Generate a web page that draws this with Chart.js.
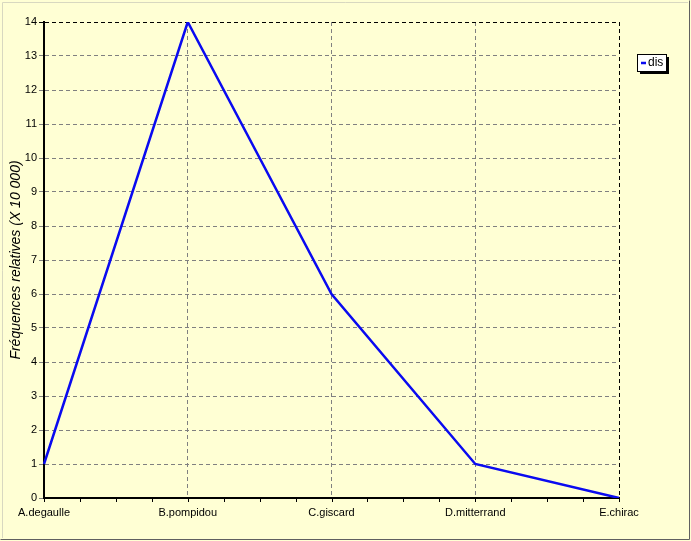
<!DOCTYPE html>
<html>
<head>
<meta charset="utf-8">
<script src="https://cdn.jsdelivr.net/npm/chart.js@4/dist/chart.umd.min.js"></script>
<style>
  html, body { margin: 0; padding: 0; background: #ffffd4; }
  #wrap { width: 691px; height: 541px; }
</style>
</head>
<body>
<div id="wrap"><canvas id="chart" width="691" height="541"></canvas></div>
<script>
// data
const presidents = ['A.degaulle', 'B.pompidou', 'C.giscard', 'D.mitterrand', 'E.chirac'];
const disValues = [1, 14, 6, 1, 0];
const seriesName = 'dis';
const yTitle = 'Fréquences relatives (X 10 000)';

const bgColor = '#ffffd4';
const lineColor = '#0a0af0';

// frame round the whole picture + the legend box with its shadow
const decor = {
  id: 'decor',
  beforeDraw(chart) {
    const ctx = chart.ctx;
    ctx.save();
    ctx.fillStyle = bgColor;
    ctx.fillRect(0, 0, chart.width, chart.height);
    ctx.strokeStyle = '#d8d8c0';
    ctx.lineWidth = 1;
    ctx.beginPath();
    ctx.moveTo(2.5, chart.height - 3);
    ctx.lineTo(2.5, 2.5);
    ctx.lineTo(chart.width - 3, 2.5);
    ctx.stroke();
    ctx.strokeStyle = '#606060';
    ctx.beginPath();
    ctx.moveTo(0.5, chart.height - 1.5);
    ctx.lineTo(chart.width - 1.5, chart.height - 1.5);
    ctx.lineTo(chart.width - 1.5, 0.5);
    ctx.stroke();
    ctx.restore();
  },
  afterDraw(chart) {
    const ctx = chart.ctx;
    const x = chart.scales.x;
    const y = chart.scales.y;
    ctx.save();
    ctx.setLineDash([]);
    // minor ticks under the x axis, four per category
    ctx.strokeStyle = '#000';
    ctx.lineWidth = 1;
    for (let v = 0; v <= presidents.length - 1; v += 0.25) {
      const px = Math.round(x.getPixelForValue(v)) + 0.5;
      ctx.beginPath();
      ctx.moveTo(px, y.bottom);
      ctx.lineTo(px, y.bottom + 4);
      ctx.stroke();
    }
    // legend
    const lx = 637, ly = 54, lw = 29, lh = 17;
    ctx.fillStyle = '#000';
    ctx.fillRect(lx + 3, ly + 3, lw, lh);
    ctx.fillStyle = '#fff';
    ctx.fillRect(lx, ly, lw, lh);
    ctx.strokeStyle = '#000';
    ctx.strokeRect(lx + 0.5, ly + 0.5, lw, lh);
    ctx.strokeStyle = lineColor;
    ctx.lineWidth = 2.5;
    ctx.beginPath();
    ctx.moveTo(lx + 4, ly + 9);
    ctx.lineTo(lx + 9, ly + 9);
    ctx.stroke();
    ctx.fillStyle = '#000';
    ctx.font = '12px "Liberation Sans", Arial, sans-serif';
    ctx.textBaseline = 'middle';
    ctx.fillText(chart.data.datasets[0].label, lx + 11, ly + 9);
    ctx.restore();
  }
};

new Chart(document.getElementById('chart'), {
  type: 'line',
  data: {
    labels: presidents,
    datasets: [{
      label: seriesName,
      data: disValues,
      borderColor: lineColor,
      borderWidth: 2.5,
      pointRadius: 0,
      tension: 0,
      fill: false
    }]
  },
  options: {
    responsive: false,
    animation: false,
    devicePixelRatio: 1,
    layout: { padding: { left: 8, right: 72, top: 22, bottom: 0 } },
    plugins: {
      legend: { display: false },
      tooltip: { enabled: false }
    },
    scales: {
      x: {
        offset: false,
        grid: {
          color: ctx => ctx.index === presidents.length - 1 ? '#000' : '#808080',
          lineWidth: 1,
          drawTicks: false
        },
        border: { display: true, color: '#000', width: 2, dash: [4, 3] },
        ticks: {
          color: '#000',
          padding: 8,
          maxRotation: 0,
          autoSkip: false,
          font: { family: '"Liberation Sans", Arial, sans-serif', size: 11 }
        },
        afterFit: s => { s.height = 43; }
      },
      y: {
        min: 0,
        max: 14,
        ticks: {
          stepSize: 1,
          color: '#000',
          padding: 2,
          font: { family: '"Liberation Sans", Arial, sans-serif', size: 11 }
        },
        grid: {
          color: ctx => ctx.tick && ctx.tick.value === 14 ? '#000' : '#808080',
          lineWidth: 1,
          tickLength: 5
        },
        border: { display: true, color: '#000', width: 2, dash: [4, 3] },
        title: {
          display: true,
          text: yTitle,
          color: '#000',
          padding: { top: 0, bottom: 2 },
          font: { family: '"Liberation Sans", Arial, sans-serif', size: 14, style: 'italic' }
        },
        afterFit: s => { s.width = 36; }
      }
    }
  },
  plugins: [decor]
});
</script>
</body>
</html>
